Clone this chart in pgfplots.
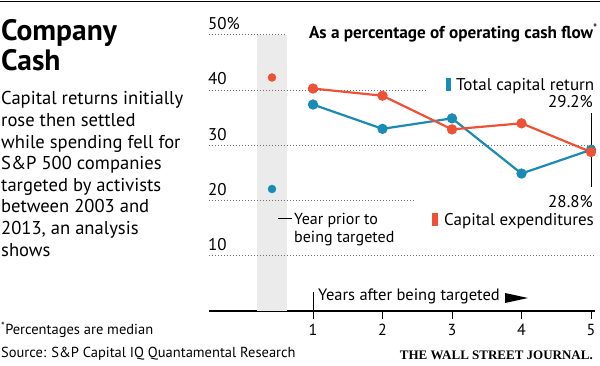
\documentclass[border=0pt]{standalone}
\usepackage{pgfplots}
\pgfplotsset{compat=1.18}
\usepackage{fontspec}
\setmainfont{PT Sans}
\newfontfamily\wsjfont{Liberation Serif}
\definecolor{tcr}{HTML}{1A8BB5}
\definecolor{capex}{HTML}{EF5136}
\definecolor{band}{HTML}{EBEBEB}
\definecolor{gridc}{HTML}{6E6E6E}
\newcommand{\fs}[1]{\fontsize{#1}{#1}\selectfont}
\begin{document}
\begin{tikzpicture}[x=1pt,y=1pt]
\useasboundingbox (0,0) rectangle (600,366);
\fill[white] (0,0) rectangle (600,366);
\draw[line width=1pt] (0,364.5) -- (600,364.5);
% left text
\node[anchor=base west, inner sep=0, font=\bfseries\fs{29.5}] at (1,366-41) {Company};
\node[anchor=base west, inner sep=0, font=\bfseries\fs{29.5}] at (1,366-71) {Cash};
\foreach \t [count=\i from 0] in {Capital returns initially, rose then settled, while spending fell for, S\&P 500 companies, targeted by activists, between 2003 and, {2013, an analysis}, shows}
  \node[anchor=base west, inner sep=0, font=\fs{18.6}] at (1,366-105-21.6*\i) {\t};
\node[anchor=base west, inner sep=0, font=\fs{14.5}] at (1,366-335) {\textsuperscript{*}Percentages are median};
\node[anchor=base west, inner sep=0, font=\fs{14.5}] at (1,366-358) {Source: S\&P Capital IQ Quantamental Research};
\node[anchor=base east, inner sep=0, font=\wsjfont\bfseries\fs{13}] at (593,366-360) {THE WALL STREET JOURNAL.};
\begin{axis}[
  at={(208.75pt,55pt)}, anchor=south west,
  scale only axis, width=386.42pt, height=276pt,
  xmin=-0.5, xmax=5.06, ymin=0, ymax=50,
  axis x line*=bottom, axis y line=none,
  x axis line style={-, line width=1.1pt},
  xtick={1,2,3,4,5}, ytick=\empty,
  tick align=outside, major tick length=8pt,
  tick style={black, line width=1pt},
  /pgf/number format/assume math mode=true,
  xticklabel style={font=\fs{16}, yshift=-2pt},
  clip=false,
]
\addplot[fill=band, draw=none, forget plot] coordinates {(0.19,50) (0.63,50)} \closedcycle;
\draw[gridc, line width=1pt, dash pattern=on 1pt off 2pt] (axis cs:-0.5,50) -- (axis cs:0.6,50);
\draw[gridc, line width=1pt, dash pattern=on 1pt off 2pt] (axis cs:-0.5,40) -- (axis cs:2.65,40);
\draw[gridc, line width=1pt, dash pattern=on 1pt off 2pt] (axis cs:-0.5,30) -- (axis cs:5.06,30);
\draw[gridc, line width=1pt, dash pattern=on 1pt off 2pt] (axis cs:-0.5,20) -- (axis cs:2.44,20);
\draw[gridc, line width=1pt, dash pattern=on 1pt off 2pt] (axis cs:-0.5,10) -- (axis cs:5.06,10);
\draw[black, line width=1pt] (axis cs:5,35.8) -- (axis cs:5,22.46);
\draw[black, line width=1pt] (axis cs:1,0) -- (axis cs:1,3.4);
\addplot[tcr, line width=2.2pt, mark=*, mark size=4pt, mark options={solid, fill=tcr, draw=tcr}] coordinates {(1,37.4) (2,33.0) (3,34.9) (4,24.9) (5,29.2)};
\addplot[only marks, mark=*, mark size=4pt, mark options={fill=tcr, draw=tcr}] coordinates {(0.41,22.1)};
\addplot[capex, line width=2.2pt, mark=*, mark size=4pt, mark options={solid, fill=capex, draw=capex}] coordinates {(1,40.3) (2,39.0) (3,32.9) (4,34.0) (5,28.8)};
\addplot[only marks, mark=*, mark size=4pt, mark options={fill=capex, draw=capex}] coordinates {(0.41,42.3)};
\end{axis}
% y labels
\foreach \v/\yy in {50\%/35, 40/90, 30/145.5, 20/200.5, 10/255.8}
  \node[anchor=base west, inner sep=0, font=\fs{17}] at (208,366-\yy+5) {\v};
% annotations
\node[anchor=base east, inner sep=0, font=\bfseries\fs{17.2}] at (598,366-39) {As a percentage of operating cash flow\textsuperscript{\normalfont*}};
\fill[tcr] (446,366-91) rectangle (451,366-78);
\node[anchor=base west, inner sep=0, font=\fs{17}] at (456,366-91) {Total capital return};
\node[anchor=base east, inner sep=0, font=\fs{17}] at (593,366-108) {29.2\%};
\node[anchor=base east, inner sep=0, font=\fs{17}] at (593,366-208) {28.8\%};
\fill[capex] (432,366-226) rectangle (438,366-213);
\node[anchor=base west, inner sep=0, font=\fs{17}] at (444,366-226) {Capital expenditures};
\draw[line width=1pt] (278,366-219) -- (292,366-219);
\node[anchor=base west, inner sep=0, font=\fs{16}] at (294,366-225) {Year prior to};
\node[anchor=base west, inner sep=0, font=\fs{16}] at (294,366-243) {being targeted};
\node[anchor=base west, inner sep=0, font=\fs{16.5}] at (318,366-301) {Years after being targeted};
\fill (505,366-293) -- (528,366-298) -- (505,366-303) -- cycle;
\end{tikzpicture}
\end{document}
